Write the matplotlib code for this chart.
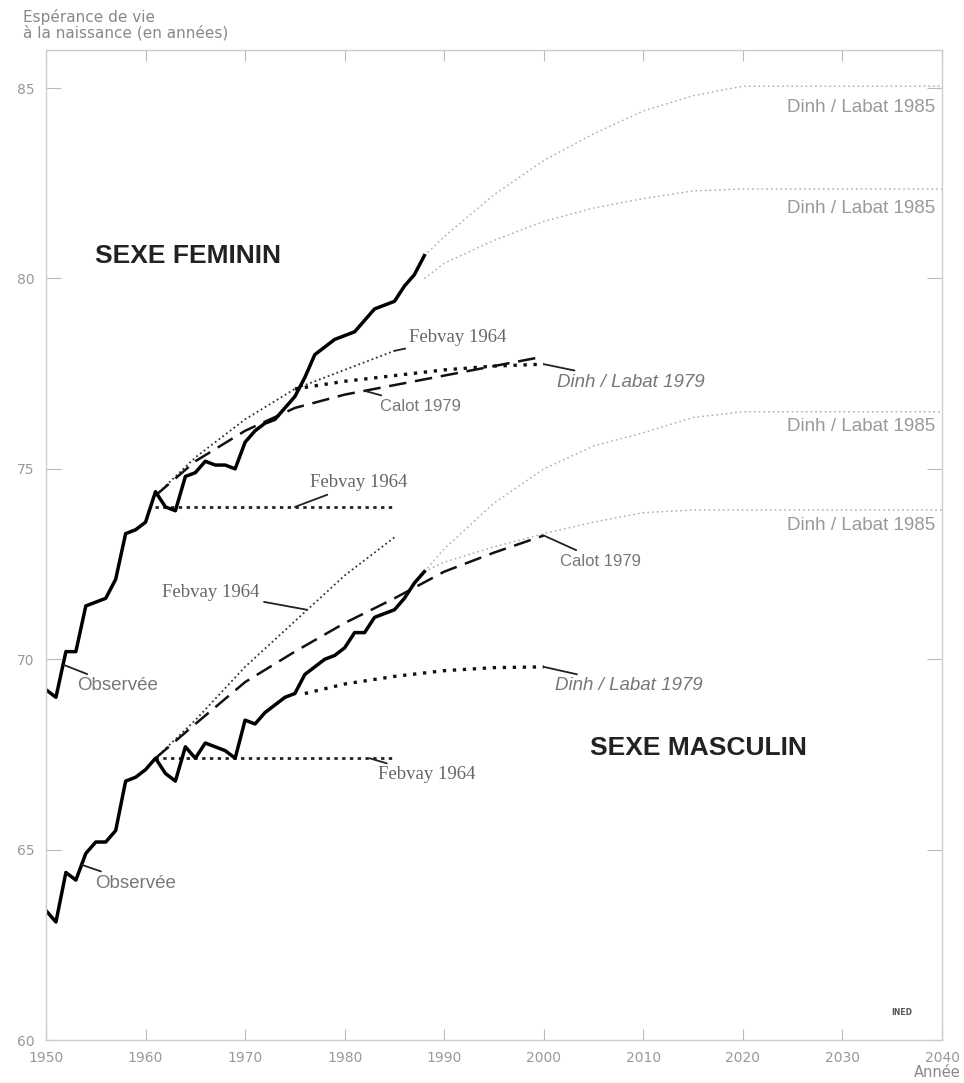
import matplotlib
matplotlib.use('Agg')
import matplotlib.pyplot as plt
import numpy as np

## data
# observed life expectancy at birth
years_obs = np.arange(1950, 1989)
fem_obs = np.array([69.2, 69.0, 70.2, 70.2, 71.4, 71.5, 71.6, 72.1, 73.3, 73.4,
                    73.6, 74.4, 74.0, 73.9, 74.8, 74.9, 75.2, 75.1, 75.1, 75.0,
                    75.7, 76.0, 76.2, 76.3, 76.6, 76.9, 77.4, 78.0, 78.2, 78.4,
                    78.5, 78.6, 78.9, 79.2, 79.3, 79.4, 79.8, 80.1, 80.6])
mas_obs = np.array([63.4, 63.1, 64.4, 64.2, 64.9, 65.2, 65.2, 65.5, 66.8, 66.9,
                    67.1, 67.4, 67.0, 66.8, 67.7, 67.4, 67.8, 67.7, 67.6, 67.4,
                    68.4, 68.3, 68.6, 68.8, 69.0, 69.1, 69.6, 69.8, 70.0, 70.1,
                    70.3, 70.7, 70.7, 71.1, 71.2, 71.3, 71.6, 72.0, 72.3])

# Febvay 1964
feb_x = [1961, 1965, 1970, 1975, 1980, 1985]
feb_fem_rise = [74.3, 75.3, 76.3, 77.1, 77.6, 78.1]
feb_mas_rise = [67.4, 68.4, 69.8, 71.0, 72.2, 73.2]
feb_flat_x = [1961, 1985]
feb_fem_flat = [74.0, 74.0]
feb_mas_flat = [67.4, 67.4]

# Calot 1979
cal_x = [1961, 1965, 1970, 1975, 1980, 1985, 1990, 1995, 2000]
cal_fem = [74.3, 75.2, 76.0, 76.6, 76.95, 77.2, 77.45, 77.7, 77.95]
cal_mas = [67.4, 68.3, 69.4, 70.2, 70.95, 71.6, 72.3, 72.8, 73.25]

# Dinh / Labat 1979
dl79_fem_x = [1975, 1980, 1985, 1990, 1995, 2000]
dl79_fem = [77.1, 77.3, 77.45, 77.6, 77.7, 77.75]
dl79_mas_x = [1976, 1980, 1985, 1990, 1995, 2000]
dl79_mas = [69.1, 69.35, 69.55, 69.7, 69.78, 69.8]

# Dinh / Labat 1985
dl85_x = [1988, 1990, 1995, 2000, 2005, 2010, 2015, 2020, 2040]
dl85_fem_hi = [80.6, 81.1, 82.2, 83.1, 83.8, 84.4, 84.8, 85.05, 85.05]
dl85_fem_lo = [80.0, 80.4, 81.0, 81.5, 81.85, 82.1, 82.3, 82.35, 82.35]
dl85_mas_hi = [72.3, 72.9, 74.1, 75.0, 75.6, 75.95, 76.35, 76.5, 76.5]
dl85_mas_lo = [72.3, 72.55, 72.95, 73.3, 73.6, 73.85, 73.92, 73.92, 73.92]

xticks = np.arange(1950, 2041, 10)
yticks = [60, 65, 70, 75, 80, 85]

## plot
fig = plt.figure(figsize=(9.64, 10.83), dpi=100)
ax = fig.add_axes([0.0477, 0.0397, 0.9295, 0.9141])

gray85 = '#aaaaaa'
for y in [dl85_fem_hi, dl85_fem_lo, dl85_mas_hi, dl85_mas_lo]:
    ax.plot(dl85_x, y, color=gray85, lw=1.0, linestyle=(0, (1.2, 2.2)))

for y in [feb_fem_rise, feb_mas_rise]:
    ax.plot(feb_x, y, color='#333333', lw=1.3, linestyle=(0, (1, 1.6)))
for y in [feb_fem_flat, feb_mas_flat]:
    ax.plot(feb_flat_x, y, color='#222222', lw=2.0, linestyle=(0, (1.2, 1.6)))

for y in [cal_fem, cal_mas]:
    ax.plot(cal_x, y, color='#111111', lw=1.8, linestyle=(0, (7, 3.5)))

ax.plot(dl79_fem_x, dl79_fem, color='#111111', lw=2.4, linestyle=(0, (1, 2)))
ax.plot(dl79_mas_x, dl79_mas, color='#111111', lw=2.4, linestyle=(0, (1, 2)))

ax.plot(years_obs, fem_obs, color='black', lw=2.5)
ax.plot(years_obs, mas_obs, color='black', lw=2.5)

## labels
ax.text(1954.9, 80.6, 'SEXE FEMININ', fontsize=19, fontweight='bold',
        family='Liberation Sans', color='#222222', va='center')
ax.text(2004.6, 67.67, 'SEXE MASCULIN', fontsize=19, fontweight='bold',
        family='Liberation Sans', color='#222222', va='center')

lead = dict(arrowstyle='-', color='#222222', lw=1.3, shrinkA=1, shrinkB=0)
sans_lbl = dict(family='Liberation Sans', color='#777777', fontsize=13.5, va='center')
serif_lbl = dict(family='Liberation Serif', color='#666666', fontsize=13.5, va='center')

ax.annotate('Observée', xy=(1951.8, 69.85), xytext=(1953.1, 69.3),
            arrowprops=lead, **sans_lbl)
ax.annotate('Observée', xy=(1953.6, 64.6), xytext=(1954.9, 64.12),
            arrowprops=lead, **sans_lbl)

ax.annotate('Febvay 1964', xy=(feb_x[-1], feb_fem_rise[-1]), xytext=(1986.5, 78.45),
            arrowprops=lead, **serif_lbl)
ax.annotate('Febvay 1964', xy=(1975, feb_fem_flat[0]), xytext=(1976.5, 74.63),
            arrowprops=lead, **serif_lbl)
ax.annotate('Febvay 1964', xy=(1976.2, 71.3), xytext=(1961.7, 71.76),
            arrowprops=lead, **serif_lbl)
ax.annotate('Febvay 1964', xy=(1982.5, feb_mas_flat[0]), xytext=(1983.3, 66.96),
            arrowprops=lead, **serif_lbl)

ax.annotate('Calot 1979', xy=(1982, 77.05), xytext=(1983.5, 76.65),
            arrowprops=lead, **dict(sans_lbl, fontsize=12))
ax.annotate('Calot 1979', xy=(cal_x[-1], cal_mas[-1]), xytext=(2001.6, 72.58),
            arrowprops=lead, **dict(sans_lbl, fontsize=12))

ax.annotate('Dinh / Labat 1979', xy=(dl79_fem_x[-1], dl79_fem[-1]), xytext=(2001.3, 77.28),
            arrowprops=lead, style='italic', **sans_lbl)
ax.annotate('Dinh / Labat 1979', xy=(dl79_mas_x[-1], dl79_mas[-1]), xytext=(2001.1, 69.3),
            arrowprops=lead, style='italic', **sans_lbl)

for y in [84.5, 81.85, 76.1, 73.5]:
    ax.text(2039.3, y, 'Dinh / Labat 1985', ha='right', **dict(sans_lbl, color='#999999'))

## axes
ax.set_xlim(1950, 2040)
ax.set_ylim(60, 86)
ax.set_xticks(xticks)
ax.set_yticks(yticks)
for s in ax.spines.values():
    s.set_color('#cccccc')
    s.set_linewidth(1.0)
ax.tick_params(axis='x', direction='in', length=8, color='#bbbbbb',
               labelcolor='#999999', labelsize=10, top=True, pad=8)
ax.tick_params(axis='y', direction='in', length=11, color='#bbbbbb',
               labelcolor='#999999', labelsize=10, right=True, pad=8)

fig.text(0.024, 0.992, 'Espérance de vie\nà la naissance (en années)', fontsize=11,
         color='#888888', va='top', ha='left', linespacing=1.0)
fig.text(0.996, 0.003, 'Année', fontsize=10.5, color='#888888', ha='right', va='bottom')
fig.text(0.935, 0.063, 'INED', fontsize=5.5, fontweight='bold', color='#555555', ha='center')

fig.savefig('out.png', dpi=100)
